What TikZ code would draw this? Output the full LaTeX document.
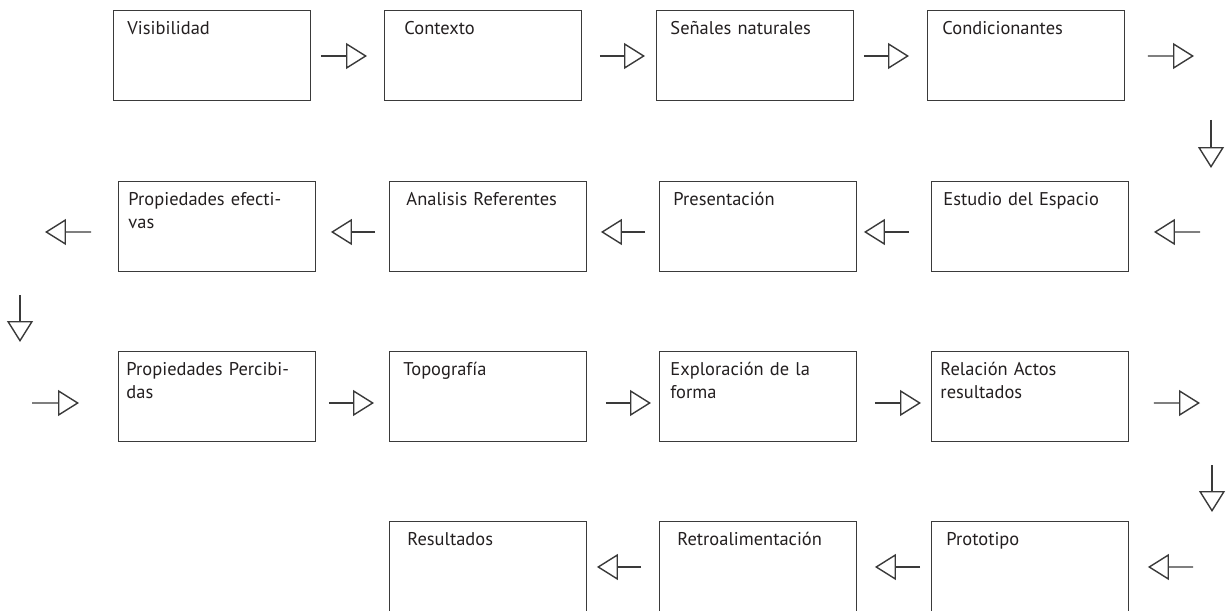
\documentclass[tikz,border=0pt]{standalone}
\usepackage{fontspec}
\setmainfont{PT Sans}
\usepackage{xcolor}
\usepackage{tikz}
\usetikzlibrary{arrows.meta,positioning}
\definecolor{edge}{HTML}{3A3A3A}
\definecolor{ink}{HTML}{231F20}

\begin{document}
\begin{tikzpicture}[
          x=0.02cm,y=-0.02cm,
          every node/.style={font=\fontsize{10.5}{13}\selectfont,text=ink},
          box/.style={draw=edge,line width=0.55pt,anchor=north west,
                      inner ysep=0pt,inner xsep=#1,text width={3.94cm-2*#1},
                      text height=0.48cm,text depth=1.32cm,align=left},
          box/.default=0.28cm,
          lastrow/.style={text depth=1.7cm},
          arr/.style={-{Triangle[open,length=0.42cm,width=0.52cm]},
                      line width=0.8pt,draw=edge},
      ]
        \useasboundingbox (0,0) rectangle (1227,611);
        \clip (0,0) rectangle (1227,611);
        % first row
        \node[box=0.28cm] (vis)  at (113,10) {Visibilidad};
        \node[box=0.40cm] (ctx)  at (384,10) {Contexto};
        \node[box=0.28cm] (sen)  at (656,10) {Señales naturales};
        \node[box=0.30cm] (cond) at (927,10) {Condicionantes};
        % second row
        \node[box=0.20cm] (propef) at (118,181) {Propiedades efecti-\\vas};
        \node[box=0.34cm] (ana)    at (389,181) {Analisis Referentes};
        \node[box=0.28cm] (pres)   at (659,181) {Presentación};
        \node[box=0.24cm] (est)    at (931,181) {Estudio del Espacio};
        % third row
        \node[box=0.16cm] (proppe) at (118,351) {Propiedades Percibi-\\das};
        \node[box=0.28cm] (topo)   at (389,351) {Topografía};
        \node[box=0.22cm] (expl)   at (659,351) {Exploración de la\\forma};
        \node[box=0.18cm] (rel)    at (931,351) {Relación Actos\\resultados};
        % last row
        \node[box=0.36cm,lastrow] (res)   at (389,521) {Resultados};
        \node[box=0.36cm,lastrow] (retro) at (659,521) {Retroalimentación};
        \node[box=0.30cm,lastrow] (proto) at (931,521) {Prototipo};

        \coordinate (out1) at (1194,56);
        \coordinate (down1a) at (1211,120);
        \coordinate (down1b) at (1211,168);
        \coordinate (in2) at (1200,232);
        \coordinate (out2) at (45,232);
        \coordinate (down2a) at (20,295);
        \coordinate (down2b) at (20,342);
        \coordinate (in3) at (32,403);
        \coordinate (out3) at (1200,403);
        \coordinate (down3a) at (1212,465);
        \coordinate (down3b) at (1212,512);
        \coordinate (in4) at (1193,567);

        \draw[arr,shorten <=0.2cm,shorten >=0.34cm] ([yshift=-0.92cm]vis.north east) -- ([yshift=-0.92cm]ctx.north west);
        \draw[arr,shorten <=0.36cm,shorten >=0.22cm] ([yshift=-0.92cm]ctx.north east) -- ([yshift=-0.92cm]sen.north west);
        \draw[arr,shorten <=0.2cm,shorten >=0.36cm] ([yshift=-0.92cm]sen.north east) -- ([yshift=-0.92cm]cond.north west);
        \draw[arr,shorten <=0.46cm] ([yshift=-0.92cm]cond.north east) -- (out1);
        \draw[arr] (down1a) -- (down1b);

        \draw[arr,shorten >=0.5cm] (in2) -- ([yshift=-1.02cm]est.north east);
        \draw[arr,shorten <=0.44cm,shorten >=0.14cm] ([yshift=-1.02cm]est.north west) -- ([yshift=-1.02cm]pres.north east);
        \draw[arr,shorten <=0.28cm,shorten >=0.28cm] ([yshift=-1.02cm]pres.north west) -- ([yshift=-1.02cm]ana.north east);
        \draw[arr,shorten <=0.28cm,shorten >=0.3cm] ([yshift=-1.02cm]ana.north west) -- ([yshift=-1.02cm]propef.north east);
        \draw[arr,shorten <=0.54cm] ([yshift=-1.02cm]propef.north west) -- (out2);
        \draw[arr] (down2a) -- (down2b);

        \draw[arr,shorten >=0.78cm] (in3) -- ([yshift=-1.04cm]proppe.north west);
        \draw[arr,shorten <=0.26cm,shorten >=0.3cm] ([yshift=-1.04cm]proppe.north east) -- ([yshift=-1.04cm]topo.north west);
        \draw[arr,shorten <=0.38cm,shorten >=0.16cm] ([yshift=-1.04cm]topo.north east) -- ([yshift=-1.04cm]expl.north west);
        \draw[arr,shorten <=0.36cm,shorten >=0.2cm] ([yshift=-1.04cm]expl.north east) -- ([yshift=-1.04cm]rel.north west);
        \draw[arr,shorten <=0.5cm] ([yshift=-1.04cm]rel.north east) -- (out3);
        \draw[arr] (down3a) -- (down3b);

        \draw[arr,shorten >=0.38cm] (in4) -- ([yshift=-0.92cm]proto.north east);
        \draw[arr,shorten <=0.22cm,shorten >=0.36cm] ([yshift=-0.92cm]proto.north west) -- ([yshift=-0.92cm]retro.north east);
        \draw[arr,shorten <=0.36cm,shorten >=0.2cm] ([yshift=-0.92cm]retro.north west) -- ([yshift=-0.92cm]res.north east);
      \end{tikzpicture}
\end{document}
